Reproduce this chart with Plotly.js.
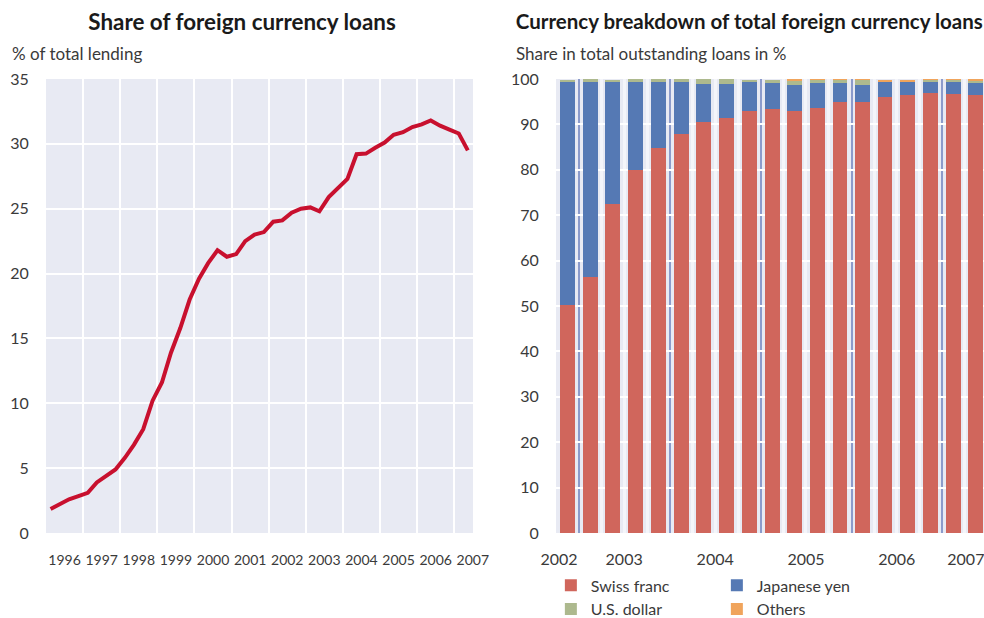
<!DOCTYPE html>
<html>
<head>
<meta charset="utf-8">
<script src="https://cdn.plot.ly/plotly-3.0.1.min.js"></script>
<style>
  html, body { margin: 0; padding: 0; background: #fff; }
  #wrap { display: flex; width: 984px; height: 618px; }
  #lendingShare, #currencyBreakdown { width: 492px; height: 618px; }
</style>
</head>
<body>
<div id="wrap">
  <div id="lendingShare"></div>
  <div id="currencyBreakdown"></div>
</div>
<script>
// left chart: share of foreign currency loans, % of total lending (quarterly)
const lendingQuarters = [
  "1996-02-15", "1996-05-15", "1996-08-15", "1996-11-15",
  "1997-02-15", "1997-05-15", "1997-08-15", "1997-11-15",
  "1998-02-15", "1998-05-15", "1998-08-15", "1998-11-15",
  "1999-02-15", "1999-05-15", "1999-08-15", "1999-11-15",
  "2000-02-15", "2000-05-15", "2000-08-15", "2000-11-15",
  "2001-02-15", "2001-05-15", "2001-08-15", "2001-11-15",
  "2002-02-15", "2002-05-15", "2002-08-15", "2002-11-15",
  "2003-02-15", "2003-05-15", "2003-08-15", "2003-11-15",
  "2004-02-15", "2004-05-15", "2004-08-15", "2004-11-15",
  "2005-02-15", "2005-05-15", "2005-08-15", "2005-11-15",
  "2006-02-15", "2006-05-15", "2006-08-15", "2006-11-15",
  "2007-02-15", "2007-05-15",
];
const lendingShare = [
  1.85, 2.25, 2.6, 2.85,
  3.1, 3.9, 4.4, 4.9,
  5.8, 6.8, 8.0, 10.2,
  11.6, 13.9, 15.8, 18.0,
  19.6, 20.8, 21.8, 21.3,
  21.5, 22.5, 23.0, 23.2,
  24.0, 24.1, 24.7, 25.0,
  25.1, 24.8, 25.9, 26.6,
  27.3, 29.2, 29.25, 29.7,
  30.1, 30.7, 30.9, 31.3,
  31.5, 31.8, 31.4, 31.1,
  30.8, 29.5,
];

// right chart: currency breakdown, share in total outstanding loans in %
const breakdownQuarters = [
  "2002-11-15",
  "2003-02-15", "2003-05-15", "2003-08-15", "2003-11-15",
  "2004-02-15", "2004-05-15", "2004-08-15", "2004-11-15",
  "2005-02-15", "2005-05-15", "2005-08-15", "2005-11-15",
  "2006-02-15", "2006-05-15", "2006-08-15", "2006-11-15",
  "2007-02-15", "2007-05-15",
];
const swissFranc = [50.2, 56.4, 72.5, 80.0, 84.8, 87.9, 90.5, 91.4, 92.9, 93.4, 92.9, 93.6, 95.0, 95.0, 96.1, 96.5, 96.9, 96.7, 96.5];
const japaneseYen = [49.1, 42.9, 26.8, 19.3, 14.5, 11.4, 8.4, 7.5, 6.4, 5.7, 5.8, 5.5, 4.1, 3.7, 3.2, 2.8, 2.4, 2.6, 2.6];
const usDollar = [0.5, 0.7, 0.5, 0.7, 0.7, 0.7, 1.1, 1.1, 0.5, 0.7, 0.9, 0.7, 0.7, 1.1, 0.1, 0.1, 0.5, 0.5, 0.5];
const others = [0, 0, 0, 0, 0, 0, 0, 0, 0, 0, 0.4, 0.2, 0.2, 0.2, 0.4, 0.4, 0.3, 0.3, 0.5];

const yearLabels = ["2002", "2003", "2004", "2005", "2006", "2007"];
const yearLabelDates = ["2002-10-12", "2003-07-01", "2004-07-01", "2005-07-01", "2006-07-01", "2007-04-05"];

const colors = {
  line: "#c8102e",
  swiss: "#d0665c",
  yen: "#5579b4",
  usd: "#adb98e",
  others: "#f0a45c",
  plotBg: "#e8eaf3",
  grid: "#ffffff",
  quarterGrid: "#f4f5fa",
  yearGrid: "#8c9bcb",
  title: "#1a1a1a",
  text: "#3a3a3a",
};

const baseLayout = {
  paper_bgcolor: "#ffffff",
  plot_bgcolor: colors.plotBg,
  font: { family: "Lato, sans-serif", color: colors.text, size: 16 },
  showlegend: false,
};

const config = { displayModeBar: false, staticPlot: true };

const hiddenTicks = { ticks: "outside", tickcolor: "rgba(0,0,0,0)", ticklabeloverflow: "allow", tickangle: 0 };

Plotly.newPlot(
  "lendingShare",
  [
    {
      x: lendingQuarters,
      y: lendingShare,
      type: "scatter",
      mode: "lines",
      line: { color: colors.line, width: 4 },
    },
  ],
  {
    ...baseLayout,
    margin: { l: 46, r: 19, t: 79, b: 85, autoexpand: false },
    title: {
      text: "<b>Share of foreign currency loans</b>",
      font: { size: 22.4, color: colors.title },
      xref: "container", yref: "container",
      x: 0.492, xanchor: "center", y: 0.964, yanchor: "middle",
    },
    xaxis: {
      type: "date",
      range: ["1996-01-01", "2007-07-05"],
      tick0: "1996-01-01",
      dtick: "M12",
      tickformat: "%Y",
      ticklabelmode: "period",
      showgrid: true, gridcolor: colors.grid, gridwidth: 2,
      zeroline: false, showline: false,
      ...hiddenTicks, ticklen: 14,
      tickfont: { size: 14 },
    },
    yaxis: {
      range: [0, 35], dtick: 5,
      showgrid: true, gridcolor: colors.grid, gridwidth: 2,
      zeroline: false, showline: false,
      ...hiddenTicks, ticklen: 13,
    },
    annotations: [
      {
        text: "% of total lending",
        font: { size: 17 },
        xref: "paper", yref: "paper", x: 0, y: 1,
        xanchor: "left", yanchor: "bottom", xshift: -36, yshift: 13,
        showarrow: false,
      },
    ],
  },
  config
);

const breakdownRange = ["2002-09-30", "2007-06-17"];

Plotly.newPlot(
  "currencyBreakdown",
  [
    { x: breakdownQuarters, y: swissFranc, type: "bar", name: "Swiss franc", marker: { color: colors.swiss } },
    { x: breakdownQuarters, y: japaneseYen, type: "bar", name: "Japanese yen", marker: { color: colors.yen } },
    { x: breakdownQuarters, y: usDollar, type: "bar", name: "U.S. dollar", marker: { color: colors.usd } },
    { x: breakdownQuarters, y: others, type: "bar", name: "Others", marker: { color: colors.others } },
    // empty trace so the label axis gets drawn
    { x: [], y: [], type: "scatter", xaxis: "x2", yaxis: "y", showlegend: false, hoverinfo: "skip" },
  ],
  {
    ...baseLayout,
    showlegend: true,
    margin: { l: 64, r: 0, t: 79, b: 85, autoexpand: false },
    title: {
      text: "<b>Currency breakdown of total foreign currency loans</b>",
      font: { size: 20.5, color: colors.title },
      xref: "container", yref: "container",
      x: 0.523, xanchor: "center", y: 0.964, yanchor: "middle",
    },
    barmode: "stack",
    bargap: 0.33,
    xaxis: {
      type: "date",
      range: breakdownRange,
      tick0: "2003-01-01",
      dtick: "M12",
      showticklabels: false,
      ticks: "",
      showgrid: true, gridcolor: colors.yearGrid, gridwidth: 2,
      zeroline: false, showline: false,
      minor: { tick0: "2003-01-01", dtick: "M3", showgrid: true, gridcolor: colors.quarterGrid, gridwidth: 3 },
    },
    xaxis2: {
      type: "date",
      overlaying: "x",
      anchor: "y",
      range: breakdownRange,
      tickmode: "array",
      tickvals: yearLabelDates,
      ticktext: yearLabels,
      showgrid: false, zeroline: false, showline: false,
      ...hiddenTicks, ticklen: 12,
      tickfont: { size: 16 },
    },
    yaxis: {
      range: [0, 100], dtick: 10,
      showgrid: true, gridcolor: colors.grid, gridwidth: 2,
      zeroline: false, showline: false,
      ...hiddenTicks, ticklen: 13,
    },
    legend: {
      orientation: "h",
      traceorder: "normal",
      x: -0.012, xanchor: "left",
      y: -0.078, yanchor: "top",
      entrywidth: 121,
      tracegroupgap: 0,
      font: { size: 16 },
    },
    annotations: [
      {
        text: "Share in total outstanding loans in %",
        font: { size: 17 },
        xref: "paper", yref: "paper", x: 0, y: 1,
        xanchor: "left", yanchor: "bottom", xshift: -42, yshift: 13,
        showarrow: false,
      },
    ],
  },
  config
);
</script>
</body>
</html>
